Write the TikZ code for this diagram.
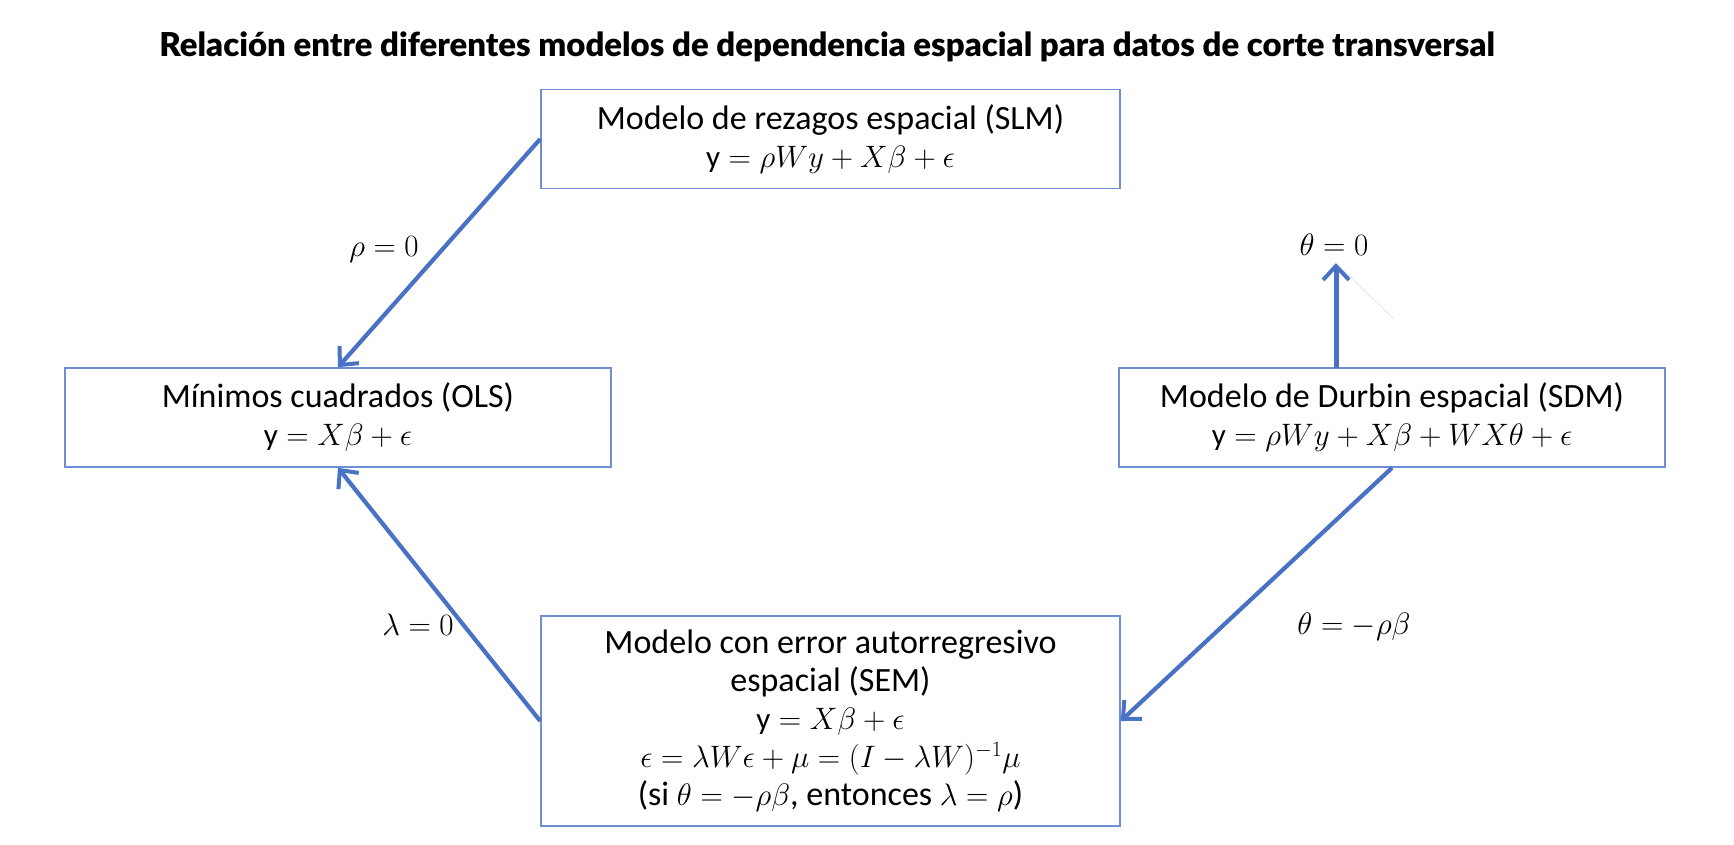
\RequirePackage{fix-cm}
\documentclass[tikz,border=0pt]{standalone}
\usepackage{fontspec}
\setmainfont{Carlito}
\newfontfamily\titlefont{Lato}[BoldFont={Lato Black}]
\usetikzlibrary{arrows.meta,calc}
\definecolor{boxblue}{HTML}{6F8FD4}
\definecolor{arrblue}{HTML}{4A72C4}
\newcommand\mth[1]{{\fontsize{31}{38}\selectfont$#1$}}
\tikzset{
  model/.style={draw=boxblue, line width=1.6pt, align=center, inner sep=0pt,
    font=\fontsize{34}{38}\selectfont},
  conn/.style={draw=arrblue, line width=4.2pt,
    -{Straight Barb[length=14pt,width=26pt,line width=4pt]}},
  lbl/.style={inner sep=0pt, font=\fontsize{31}{38}\selectfont}
}
\begin{document}
\begin{tikzpicture}[x=1pt,y=-1pt]
\useasboundingbox (0,0) rectangle (1734,844);
\node (title) at (827,47) {\resizebox{1335pt}{!}{\titlefont\bfseries Relación entre diferentes modelos de dependencia espacial para datos de corte transversal}};
\node[model, minimum width=579pt, minimum height=99pt] (slm) at (830.5,139)
  {Modelo de rezagos espacial (SLM)\\ \mth{\mathrm{y}=\rho W y+X\beta+\epsilon}};
\node[model, minimum width=546pt, minimum height=99pt] (ols) at (338,417.5)
  {Mínimos cuadrados (OLS)\\ \mth{\mathrm{y}=X\beta+\epsilon}};
\node[model, minimum width=546pt, minimum height=99pt] (sdm) at (1392,417.5)
  {Modelo de Durbin espacial (SDM)\\ \mth{\mathrm{y}=\rho W y+X\beta+WX\theta+\epsilon}};
\node[model, minimum width=579pt, minimum height=210pt] (sem) at (830.5,721)
  {Modelo con error autorregresivo\\ espacial (SEM)\\ \mth{\mathrm{y}=X\beta+\epsilon}\\
   \mth{\epsilon=\lambda W\epsilon+\mu=(I-\lambda W)^{-1}\mu}\\
   (si \mth{\theta=-\rho\beta}, entonces \mth{\lambda=\rho})};
\node[lbl] (lrho) at (384,250) {$\rho=0$};
\node[lbl] (llam) at (418,625) {$\lambda=0$};
\node[lbl] (lthb) at (1354,627) {$\theta=-\rho\beta$};
\node[lbl] (lth) at (1334,245) {$\theta=0$};
\coordinate (thtip) at (1336,263);
\coordinate (thbase) at (1336,368);
\coordinate (faintend) at (1393,318);
\draw[conn] (slm.west) -- (ols.north);
\draw[conn] (sem.west) -- (ols.south);
\draw[conn] (sdm.south) -- (sem.east);
\draw[conn, line width=5pt] (thbase) -- (thtip);
\draw[boxblue!40, line width=0.4pt] (thtip) -- (faintend);
\end{tikzpicture}
\end{document}
